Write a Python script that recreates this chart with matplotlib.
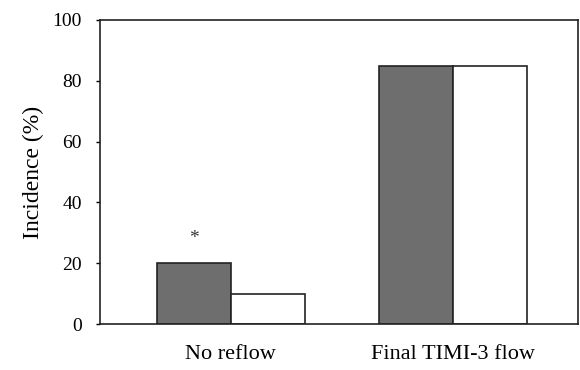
import numpy as np
import matplotlib.pyplot as plt

# Values
groups = ['No reflow', 'Final TIMI-3 flow']
dark_vals = [20, 85]
white_vals = [10, 85]
yticks = [0, 20, 40, 60, 80, 100]
star_value = 28

plt.rcParams['font.family'] = ['Liberation Serif', 'DejaVu Serif']

fig = plt.figure(figsize=(5.8, 3.7), dpi=100)
ax = fig.add_axes([0.172, 0.124, 0.825, 0.822])

x = np.arange(len(groups))
w = 0.333

ax.bar(x - w / 2, dark_vals, w, color='#6e6e6e', edgecolor='#222222', linewidth=1.2)
ax.bar(x + w / 2, white_vals, w, color='white', edgecolor='#222222', linewidth=1.2)

# significance marker over the first dark bar
ax.text(x[0] - w / 2, star_value, '*', ha='center', va='center', fontsize=14, color='#333333')

ax.set_xlim(-0.59, 1.563)
ax.set_ylim(0, 100)
ax.set_yticks(yticks)
ax.set_xticks(x)
ax.set_xticklabels(groups, fontsize=16)
ax.set_ylabel('Incidence (%)', fontsize=17, labelpad=6)
ax.tick_params(axis='y', direction='out', length=3, width=1, pad=10, labelsize=14)
ax.tick_params(axis='x', length=0, pad=15)

for side in ['left', 'bottom', 'top', 'right']:
    ax.spines[side].set_linewidth(1.2)
    ax.spines[side].set_color('#222222')

fig.savefig('out.png', dpi=100)
